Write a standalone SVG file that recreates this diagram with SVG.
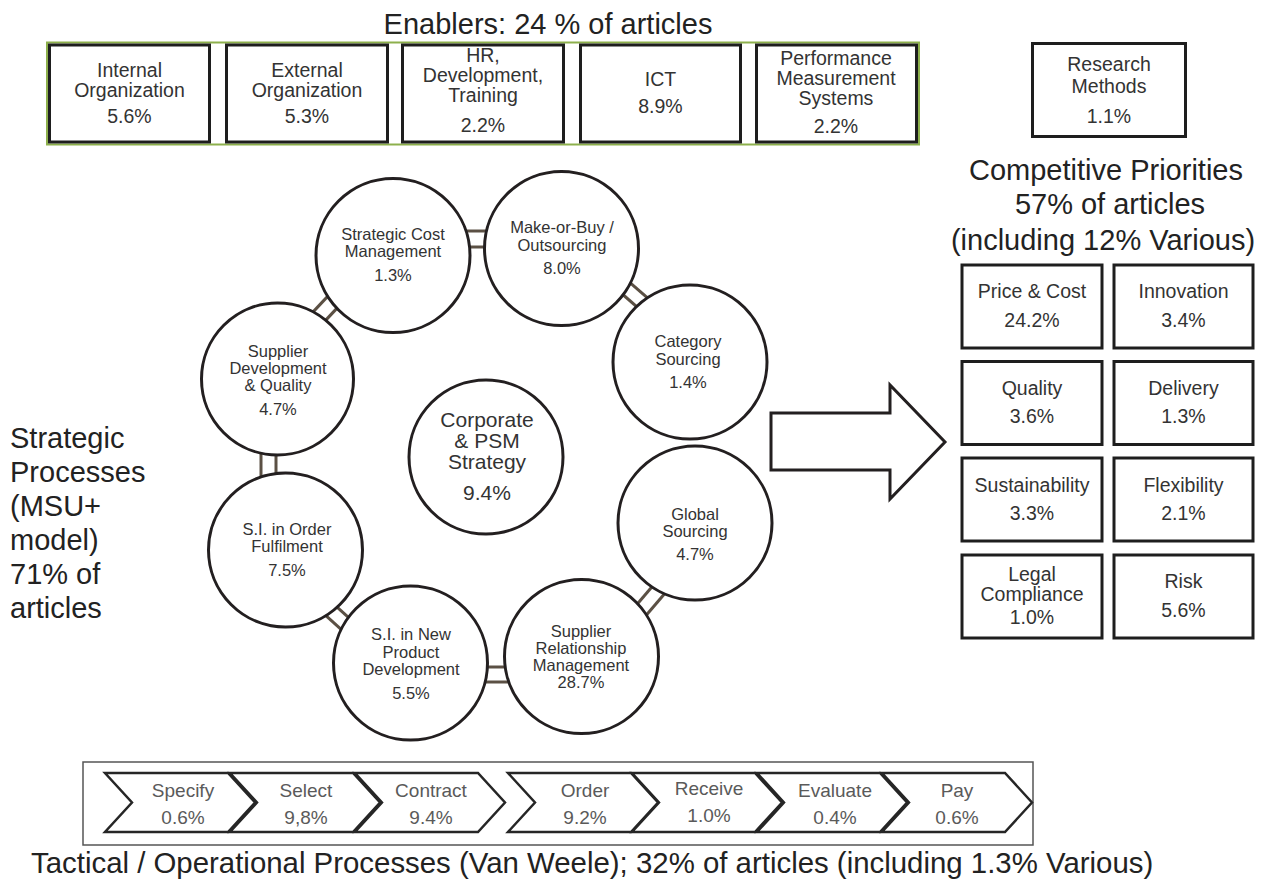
<svg xmlns="http://www.w3.org/2000/svg" width="1265" height="888" viewBox="0 0 1265 888">
<style>
text{font-family:"Liberation Sans",Arial,sans-serif;text-anchor:middle}
.title{font-size:29px;fill:#222}
.bt{font-size:19.5px;fill:#333}
.ct{font-size:16.5px;fill:#333}
.ch{font-size:19px;fill:#5a5a5a}
.box{fill:#fff;stroke:#1e1e1e;stroke-width:3}
.circ{fill:#fff;stroke:#231f20;stroke-width:3}
.chev{fill:#fff;stroke:#262626;stroke-width:2.5;stroke-linejoin:miter}
.con{stroke:#5b5044;stroke-width:3;fill:none}
</style>
<rect width="1265" height="888" fill="#fff"/>

<!-- Enablers -->
<text class="title" x="548" y="34">Enablers: 24 % of articles</text>
<rect x="47" y="42.5" width="872" height="102" fill="none" stroke="#8db04c" stroke-width="2"/>
<g id="enabler-internal">
<rect class="box" x="49.5" y="45" width="160" height="97"/>
<text class="bt" x="129.5" y="77">Internal</text>
<text class="bt" x="129.5" y="97">Organization</text>
<text class="bt" x="129.5" y="123">5.6%</text>
</g>
<g id="enabler-external">
<rect class="box" x="226.5" y="45" width="161" height="97"/>
<text class="bt" x="307" y="77">External</text>
<text class="bt" x="307" y="97">Organization</text>
<text class="bt" x="307" y="123">5.3%</text>
</g>
<g id="enabler-hr">
<rect class="box" x="402.5" y="45" width="161" height="97"/>
<text class="bt" x="483" y="62">HR,</text>
<text class="bt" x="483" y="82">Development,</text>
<text class="bt" x="483" y="102">Training</text>
<text class="bt" x="483" y="132">2.2%</text>
</g>
<g id="enabler-ict">
<rect class="box" x="580.5" y="45" width="160" height="97"/>
<text class="bt" x="660.5" y="86">ICT</text>
<text class="bt" x="660.5" y="113">8.9%</text>
</g>
<g id="enabler-pms">
<rect class="box" x="756.5" y="45" width="160" height="97"/>
<text class="bt" x="836" y="65">Performance</text>
<text class="bt" x="836" y="85">Measurement</text>
<text class="bt" x="836" y="105">Systems</text>
<text class="bt" x="836" y="133">2.2%</text>
</g>
<g id="research-methods">
<rect class="box" x="1032.5" y="43.5" width="153" height="93"/>
<text class="bt" x="1109" y="71">Research</text>
<text class="bt" x="1109" y="93">Methods</text>
<text class="bt" x="1109" y="123">1.1%</text>
</g>

<!-- Competitive priorities -->
<text class="title" x="1106" y="180">Competitive Priorities</text>
<text class="title" x="1110" y="214">57% of articles</text>
<text class="title" x="1103" y="250">(including 12% Various)</text>
<g id="cp-price">
<rect class="box" x="962" y="265" width="140" height="83"/>
<text class="bt" x="1032" y="298">Price &amp; Cost</text>
<text class="bt" x="1032" y="327">24.2%</text>
</g>
<g id="cp-innovation">
<rect class="box" x="1114" y="265" width="139" height="83"/>
<text class="bt" x="1183.5" y="298">Innovation</text>
<text class="bt" x="1183.5" y="327">3.4%</text>
</g>
<g id="cp-quality">
<rect class="box" x="962" y="361.5" width="140" height="83"/>
<text class="bt" x="1032" y="395">Quality</text>
<text class="bt" x="1032" y="423">3.6%</text>
</g>
<g id="cp-delivery">
<rect class="box" x="1114" y="361.5" width="139" height="83"/>
<text class="bt" x="1183.5" y="395">Delivery</text>
<text class="bt" x="1183.5" y="423">1.3%</text>
</g>
<g id="cp-sustainability">
<rect class="box" x="962" y="458" width="140" height="83"/>
<text class="bt" x="1032" y="492">Sustainability</text>
<text class="bt" x="1032" y="520">3.3%</text>
</g>
<g id="cp-flexibility">
<rect class="box" x="1114" y="458" width="139" height="83"/>
<text class="bt" x="1183.5" y="492">Flexibility</text>
<text class="bt" x="1183.5" y="520">2.1%</text>
</g>
<g id="cp-legal">
<rect class="box" x="962" y="555" width="140" height="83"/>
<text class="bt" x="1032" y="581">Legal</text>
<text class="bt" x="1032" y="601">Compliance</text>
<text class="bt" x="1032" y="624">1.0%</text>
</g>
<g id="cp-risk">
<rect class="box" x="1114" y="555" width="139" height="83"/>
<text class="bt" x="1183.5" y="588">Risk</text>
<text class="bt" x="1183.5" y="617">5.6%</text>
</g>

<!-- Big arrow -->
<g id="arrow">
<polygon points="771,413 890,413 890,385 945,442 890,499 890,470 771,470" fill="#fff" stroke="#231f20" stroke-width="3" stroke-linejoin="miter"/>
</g>

<!-- Left label -->
<g id="strategic-label" style="font-family:'Liberation Sans',Arial,sans-serif;font-size:29px;fill:#222">
<text x="10" y="448" style="text-anchor:start">Strategic</text>
<text x="10" y="482" style="text-anchor:start">Processes</text>
<text x="10" y="516" style="text-anchor:start">(MSU+</text>
<text x="10" y="550" style="text-anchor:start">model)</text>
<text x="10" y="584" style="text-anchor:start">71% of</text>
<text x="10" y="618" style="text-anchor:start">articles</text>
</g>

<!-- Connectors -->
<g id="connectors" class="con">
<line x1="462" y1="231" x2="490" y2="231"/><line x1="465" y1="247" x2="489" y2="247"/>
<line x1="628.5" y1="281.3" x2="649.5" y2="299.7"/><line x1="620.5" y1="292.5" x2="641.5" y2="310.9"/>
<line x1="630.3" y1="612.2" x2="653.7" y2="584.8"/><line x1="637.9" y1="625" x2="665.2" y2="593"/>
<line x1="484" y1="667" x2="510" y2="667"/><line x1="483" y1="682" x2="510" y2="682"/>
<line x1="320.1" y1="610.4" x2="346.9" y2="634.6"/><line x1="329.6" y1="600.4" x2="356.4" y2="624.6"/>
<line x1="261" y1="452" x2="261" y2="480"/><line x1="276" y1="452" x2="276" y2="480"/>
<line x1="308.2" y1="317.1" x2="332.8" y2="290.9"/><line x1="319.7" y1="326.6" x2="344.3" y2="300.4"/>
</g>

<!-- Circles -->
<g id="strategic-cost">
<circle class="circ" cx="393" cy="255.5" r="77"/>
<text class="ct" x="393" y="240">Strategic Cost</text>
<text class="ct" x="393" y="257">Management</text>
<text class="ct" x="393" y="281">1.3%</text>
</g>
<g id="make-or-buy">
<circle class="circ" cx="561.5" cy="248.5" r="77"/>
<text class="ct" x="562" y="233">Make-or-Buy /</text>
<text class="ct" x="562" y="251">Outsourcing</text>
<text class="ct" x="562" y="274">8.0%</text>
</g>
<g id="category-sourcing">
<circle class="circ" cx="690" cy="362" r="77"/>
<text class="ct" x="688" y="347">Category</text>
<text class="ct" x="688" y="365">Sourcing</text>
<text class="ct" x="688" y="388">1.4%</text>
</g>
<g id="global-sourcing">
<circle class="circ" cx="695" cy="523" r="77"/>
<text class="ct" x="695" y="520">Global</text>
<text class="ct" x="695" y="537">Sourcing</text>
<text class="ct" x="695" y="560">4.7%</text>
</g>
<g id="srm">
<circle class="circ" cx="581.5" cy="656.5" r="77"/>
<text class="ct" x="581" y="637">Supplier</text>
<text class="ct" x="581" y="654">Relationship</text>
<text class="ct" x="581" y="671">Management</text>
<text class="ct" x="581" y="688">28.7%</text>
</g>
<g id="si-npd">
<circle class="circ" cx="410.5" cy="663" r="77"/>
<text class="ct" x="411" y="640">S.I. in New</text>
<text class="ct" x="411" y="658">Product</text>
<text class="ct" x="411" y="675">Development</text>
<text class="ct" x="411" y="699">5.5%</text>
</g>
<g id="si-order">
<circle class="circ" cx="285.5" cy="550" r="77"/>
<text class="ct" x="287" y="535">S.I. in Order</text>
<text class="ct" x="287" y="552">Fulfilment</text>
<text class="ct" x="287" y="576">7.5%</text>
</g>
<g id="supplier-dev">
<circle class="circ" cx="277.5" cy="379" r="76"/>
<text class="ct" x="278" y="357">Supplier</text>
<text class="ct" x="278" y="374">Development</text>
<text class="ct" x="278" y="391">&amp; Quality</text>
<text class="ct" x="278" y="415">4.7%</text>
</g>
<g id="corporate">
<circle class="circ" cx="486" cy="457" r="77"/>
<text x="487" y="427" style="font-size:21px;fill:#333">Corporate</text>
<text x="487" y="448" style="font-size:21px;fill:#333">&amp; PSM</text>
<text x="487" y="469" style="font-size:21px;fill:#333">Strategy</text>
<text x="487" y="500" style="font-size:21px;fill:#333">9.4%</text>
</g>

<!-- Tactical process chain -->
<rect x="83" y="762" width="950" height="83" fill="none" stroke="#555" stroke-width="1.5"/>
<g id="p-specify">
<polygon class="chev" points="105,773 228,773 255,802.5 228,832 105,832 132,802.5"/>
<text class="ch" x="183" y="797">Specify</text><text class="ch" x="183" y="824">0.6%</text>
</g>
<g id="p-select">
<polygon class="chev" points="230,773 353,773 380,802.5 353,832 230,832 257,802.5"/>
<text class="ch" x="306" y="797">Select</text><text class="ch" x="306" y="824">9,8%</text>
</g>
<g id="p-contract">
<polygon class="chev" points="355,773 478,773 505,802.5 478,832 355,832 382,802.5"/>
<text class="ch" x="431" y="797">Contract</text><text class="ch" x="431" y="824">9.4%</text>
</g>
<g id="p-order">
<polygon class="chev" points="508,773 631,773 658,802.5 631,832 508,832 535,802.5"/>
<text class="ch" x="585" y="797">Order</text><text class="ch" x="585" y="824">9.2%</text>
</g>
<g id="p-receive">
<polygon class="chev" points="632,773 755,773 782,802.5 755,832 632,832 659,802.5"/>
<text class="ch" x="709" y="795">Receive</text><text class="ch" x="709" y="822">1.0%</text>
</g>
<g id="p-evaluate">
<polygon class="chev" points="757,773 880,773 907,802.5 880,832 757,832 784,802.5"/>
<text class="ch" x="835" y="797">Evaluate</text><text class="ch" x="835" y="824">0.4%</text>
</g>
<g id="p-pay">
<polygon class="chev" points="882,773 1005,773 1032,802.5 1005,832 882,832 909,802.5"/>
<text class="ch" x="957" y="797">Pay</text><text class="ch" x="957" y="824">0.6%</text>
</g>
<text x="31" y="873" style="font-size:29.4px;fill:#222;text-anchor:start">Tactical / Operational Processes (Van Weele); 32% of articles (including 1.3% Various)</text>
</svg>
